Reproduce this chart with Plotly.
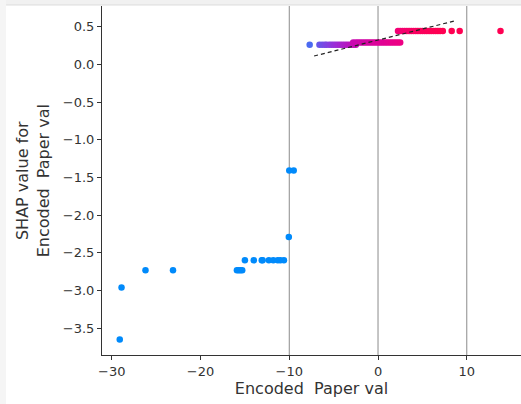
import plotly.graph_objects as go

# Lower (blue) group: feature value, SHAP value
blue_x = [-29.1, -28.9, -26.2, -23.1, -15.9, -15.7, -15.5, -15.3, -15.0, -14.0, -13.1, -13.0,
          -12.3, -11.8, -11.3, -11.0, -10.6, -10.05, -10.0, -9.5]
blue_y = [-3.65, -2.96, -2.73, -2.73, -2.73, -2.73, -2.73, -2.73, -2.60, -2.60, -2.60, -2.60,
          -2.60, -2.60, -2.60, -2.60, -2.60, -2.29, -1.41, -1.41]
blue_c = [0.0] * len(blue_x)

# Upper group rows
rowA_x = [-7.7, -6.6, -6.3, -6.0, -5.8, -5.5, -5.25, -5.0, -4.75, -4.5, -4.25, -4.0, -3.75,
          -3.5, -3.25, -3.0, -2.75, -2.5]
rowA_y = [0.26] * len(rowA_x)
rowA_c = [0.18, 0.26, 0.28, 0.30, 0.32, 0.34, 0.36, 0.38, 0.40, 0.42, 0.44, 0.46, 0.48,
          0.50, 0.52, 0.54, 0.56, 0.58]

rowB_x = [-2.8, -2.5, -2.25, -2.0, -1.75, -1.5, -1.25, -1.0, -0.75, -0.5, -0.25, 0.0, 0.25,
          0.5, 0.75, 1.0, 1.25, 1.5, 1.75, 2.0, 2.25, 2.5]
rowB_y = [0.29] * len(rowB_x)
rowB_c = [0.60, 0.61, 0.62, 0.63, 0.64, 0.65, 0.66, 0.67, 0.68, 0.69, 0.70, 0.71, 0.72,
          0.73, 0.74, 0.75, 0.76, 0.77, 0.78, 0.79, 0.80, 0.81]

rowC_x = [2.25, 2.5, 2.75, 3.0, 3.25, 3.5, 3.75, 4.0, 4.25, 4.5, 4.75, 5.0, 5.25, 5.5, 5.75,
          6.0, 6.25, 6.5, 6.75, 7.0, 7.3, 8.3, 9.2, 13.8]
rowC_y = [0.44] * len(rowC_x)
rowC_c = [0.86, 0.87, 0.88, 0.89, 0.90, 0.91, 0.92, 0.93, 0.94, 0.95, 0.95, 0.96, 0.96, 0.97,
          0.97, 0.98, 0.98, 0.99, 0.99, 1.0, 1.0, 1.0, 1.0, 1.0]

fit_x = [-7.2, 8.8]
fit_y = [0.11, 0.58]

vlines_x = [-10, 0, 10]
x_ticks = [-30, -20, -10, 0, 10]
x_ticktext = ["\u221230", "\u221220", "\u221210", "0", "10"]
y_ticks = [0.5, 0.0, -0.5, -1.0, -1.5, -2.0, -2.5, -3.0, -3.5]
y_ticktext = ["0.5", "0.0", "\u22120.5", "\u22121.0", "\u22121.5", "\u22122.0", "\u22122.5",
              "\u22123.0", "\u22123.5"]

all_x = blue_x + rowA_x + rowB_x + rowC_x
all_y = blue_y + rowA_y + rowB_y + rowC_y
all_c = blue_c + rowA_c + rowB_c + rowC_c

colorscale = [
    [0.0, "#008afb"],
    [0.2, "#5366f0"],
    [0.4, "#9a30d8"],
    [0.6, "#c808b0"],
    [0.8, "#ec0086"],
    [1.0, "#ff0052"],
]

fig = go.Figure()
fig.add_trace(go.Scatter(
    x=all_x, y=all_y, mode="markers",
    marker=dict(size=6.5, color=all_c, colorscale=colorscale, cmin=0, cmax=1,
                showscale=False, line=dict(width=0)),
    hoverinfo="skip", showlegend=False,
))
fig.add_trace(go.Scatter(
    x=fit_x, y=fit_y, mode="lines",
    line=dict(color="#222222", width=1.2, dash="4px,3px"),
    hoverinfo="skip", showlegend=False,
))

for vx in vlines_x:
    fig.add_shape(type="line", xref="x", yref="paper", x0=vx, x1=vx, y0=0, y1=1,
                  line=dict(color="#8c8c8c", width=1), layer="below")

# frame bands
fig.add_shape(type="rect", xref="paper", yref="paper", x0=-0.2434, x1=1.0, y0=1.0029, y1=1.0172,
              fillcolor="#f1f1f1", line=dict(width=0), layer="above")
fig.add_shape(type="line", xref="paper", yref="paper", x0=-0.229, x1=1.0, y0=1.0029, y1=1.0029,
              line=dict(color="#dcdcdc", width=1), layer="above")
fig.add_shape(type="rect", xref="paper", yref="paper", x0=-0.2434, x1=-0.2291, y0=-0.1404, y1=1.0172,
              fillcolor="#f5f5f5", line=dict(width=0), layer="above")

font_family = "DejaVu Sans"
fig.update_layout(
    width=521, height=404,
    margin=dict(l=102, r=0, t=6, b=49),
    paper_bgcolor="white", plot_bgcolor="white",
    font=dict(family=font_family, color="#333333"),
    xaxis=dict(range=[-31.10, 16.11], tickvals=x_ticks, ticktext=x_ticktext,
               showgrid=False, zeroline=False, showline=True, linecolor="#333333", linewidth=1,
               ticks="outside", ticklen=4, tickcolor="#333333", tickfont=dict(size=13),
               title=dict(text="Encoded  Paper val", font=dict(size=16), standoff=4)),
    yaxis=dict(range=[-3.855, 0.773], tickvals=y_ticks, ticktext=y_ticktext,
               showgrid=False, zeroline=False, showline=True, linecolor="#333333", linewidth=1,
               ticks="outside", ticklen=4, tickcolor="#333333", tickfont=dict(size=13)),
    annotations=[dict(text="SHAP value for<br>Encoded  Paper val", xref="paper", yref="paper",
                      x=-0.165, y=0.5, textangle=-90, showarrow=False, xanchor="center",
                      yanchor="middle", font=dict(size=16, color="#333333"))],
)

fig.write_html("out.html", config={"displayModeBar": False},
               post_script="document.body.style.margin='0';")
